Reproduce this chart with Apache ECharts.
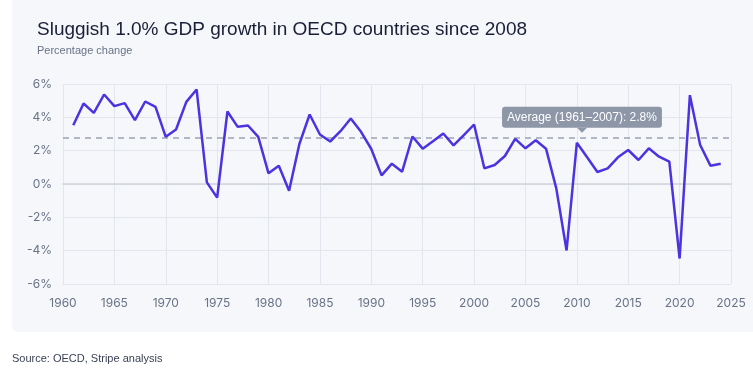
<!DOCTYPE html>
<html>
<head>
<meta charset="utf-8">
<script src="https://cdn.jsdelivr.net/npm/echarts@6/dist/echarts.min.js"></script>
<style>
html,body{margin:0;padding:0;background:#fff;}
#c{width:753px;height:380px;}
</style>
</head>
<body>
<div id="c"></div>
<script>
const years = [1961,1962,1963,1964,1965,1966,1967,1968,1969,1970,1971,1972,1973,1974,1975,1976,1977,1978,1979,1980,
  1981,1982,1983,1984,1985,1986,1987,1988,1989,1990,1991,1992,1993,1994,1995,1996,1997,1998,1999,2000,
  2001,2002,2003,2004,2005,2006,2007,2008,2009,2010,2011,2012,2013,2014,2015,2016,2017,2018,2019,2020,
  2021,2022,2023,2024];
const growth = [3.53,4.83,4.27,5.37,4.67,4.85,3.83,4.95,4.63,2.83,3.27,4.93,5.67,0.1,-0.82,4.35,3.43,3.51,2.83,0.64,
  1.1,-0.4,2.4,4.17,2.97,2.55,3.17,3.93,3.13,2.1,0.52,1.22,0.74,2.85,2.12,2.57,3.03,2.32,2.93,3.57,
  0.94,1.14,1.68,2.71,2.14,2.63,2.12,-0.26,-3.99,2.47,1.6,0.72,0.94,1.6,2.04,1.44,2.14,1.64,1.34,-4.47,
  5.33,2.34,1.1,1.22];
const avgValue = 2.8;
const avgLabel = 'Average (1961–2007): 2.8%';
const avgLabelYear = 2010.5;
const titleText = 'Sluggish 1.0% GDP growth in OECD countries since 2008';
const subtitleText = 'Percentage change';
const sourceText = 'Source: OECD, Stripe analysis';

const chart = echarts.init(document.getElementById('c'), null, {renderer:'canvas'});
const font = 'Inter, "Noto Sans", sans-serif';
const tfont = '"Liberation Sans", Arial, sans-serif';
chart.setOption({
  animation: false,
  backgroundColor: '#ffffff',
  graphic: [
    {type:'rect', z:-10, shape:{x:12,y:-10,width:760,height:342,r:6}, style:{fill:'#f5f7fa'}},
    {type:'text', left:12, top:353, style:{text:sourceText, fill:'#3c4257', font:'11px ' + tfont}},
    {type:'text', left:37, top:45, style:{text:subtitleText, fill:'#697386', font:'11px ' + tfont}}
  ],
  title: {
    text: titleText,
    left: 37, top: 20, padding: 0,
    textStyle: {fontFamily: tfont, fontSize: 19, fontWeight: 'normal', color: '#1a1f36'}
  },
  grid: {left: 63, right: 22, top: 84, bottom: 96},
  xAxis: {
    type: 'value', min: 1960, max: 2025, interval: 5,
    axisLine: {show: true, onZero: true, lineStyle: {color: '#cfd3da', width: 1.5}},
    axisTick: {show: false},
    axisLabel: {color: '#697386', fontFamily: font, fontSize: 12, margin: 13, formatter: v => String(v)},
    splitLine: {show: true, lineStyle: {color: '#e3e6ec', width: 1}}
  },
  yAxis: {
    type: 'value', min: -6, max: 6, interval: 2,
    axisLine: {show: false}, axisTick: {show: false},
    axisLabel: {color: '#697386', fontFamily: font, fontSize: 12, margin: 11, formatter: v => v + '%'},
    splitLine: {show: true, lineStyle: {color: '#e3e6ec', width: 1}}
  },
  series: [{
    type: 'line',
    data: years.map((y, i) => [y, growth[i]]),
    symbol: 'none',
    lineStyle: {color: '#4b33e0', width: 2.5},
    z: 5,
    markLine: {
      silent: true, symbol: 'none',
      lineStyle: {color: '#9aa3b2', type: [6, 5], width: 1.5},
      label: {show: false},
      data: [{yAxis: avgValue}]
    },
    markPoint: {
      silent: true,
      data: [{
        coord: [avgLabelYear, avgValue],
        symbol: 'triangle', symbolRotate: 180, symbolSize: [10, 5], symbolOffset: [0, -7],
        itemStyle: {color: '#8d97a8'},
        label: {
          show: true, position: 'top', distance: 0,
          formatter: avgLabel,
          backgroundColor: '#8d97a8', borderRadius: 3,
          padding: [5, 5, 4, 5],
          color: '#ffffff', fontFamily: tfont, fontSize: 12
        }
      }]
    }
  }]
});
</script>
</body>
</html>
